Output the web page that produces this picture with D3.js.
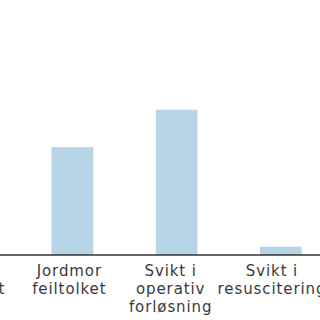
<!DOCTYPE html>
<head>
  <meta charset="utf-8">
  <script src="https://d3js.org/d3.v7.min.js"></script>
  <style>
    body { margin:0; background:#fff; overflow:hidden; }
    text { font-family: "DejaVu Sans", sans-serif; }
  </style>
</head>
<body>
  <script>
    var width = 320, height = 320;
    var baseY = 255;

    // categories (first one sits off the left edge in the reference)
    var categories = ["Lege feiltolket", "Jordmor feiltolket", "Svikt i operativ forløsning", "Svikt i resuscitering"];
    var labelLines = [["Lege", "feiltolket"], ["Jordmor", "feiltolket"], ["Svikt i", "operativ", "forløsning"], ["Svikt i", "resuscitering"]];
    var values = [20, 26, 35, 2];

    var svg = d3.select("body").append("svg")
      .attr("width", width)
      .attr("height", height);

    var x = d3.scaleBand()
      .domain(categories)
      .range([-84, 333])
      .paddingInner(0.6)
      .paddingOuter(0.3);

    // labels drift a little from the bar centres in the original
    var xLabel = d3.scalePoint()
      .domain(categories)
      .range([-32, 272]);

    var y = d3.scaleLinear()
      .domain([0, 40])
      .range([baseY, baseY - 166]);

    svg.selectAll(".bar")
      .data(categories)
      .enter()
      .append("rect")
      .attr("class", "bar")
      .attr("x", function(d) { return x(d); })
      .attr("width", x.bandwidth())
      .attr("y", function(d, i) { return y(values[i]); })
      .attr("height", function(d, i) { return y(0) - y(values[i]); })
      .style("fill", "#b8d5e8");

    svg.append("line")
      .attr("x1", 0).attr("x2", width)
      .attr("y1", y(0)).attr("y2", y(0))
      .style("stroke", "#333")
      .style("stroke-width", 1.5);

    var labels = svg.selectAll(".label")
      .data(categories)
      .enter()
      .append("text")
      .attr("class", "label")
      .attr("text-anchor", "middle")
      .style("font-size", "15px")
      .style("letter-spacing", "0.9px")
      .style("fill", "#3a3a3a")
      .attr("transform", function(d) { return "translate(" + xLabel(d) + ",276)"; });

    labels.selectAll("tspan")
      .data(function(d, i) { return labelLines[i]; })
      .enter()
      .append("tspan")
      .attr("x", 0)
      .attr("dy", function(d, i) { return i == 0 ? 0 : 18; })
      .text(function(d) { return d; });
  </script>
</body>
